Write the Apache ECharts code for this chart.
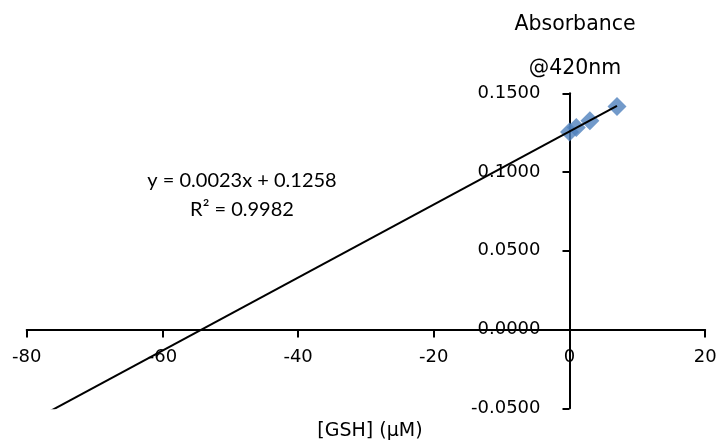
<!DOCTYPE html>
<html>
<head>
<meta charset="utf-8">
<script src="https://cdn.jsdelivr.net/npm/echarts@6/dist/echarts.min.js"></script>
<style>html,body{margin:0;padding:0;background:#fff}#c{width:721px;height:443px}</style>
</head>
<body>
<div id="c"></div>
<script>
// data
var gshConc = [0, 1, 3, 7];
var absorbance = [0.1255, 0.1283, 0.1325, 0.1416];
var slope = 0.00232;      // unrounded fit slope (label shows 0.0023)
var intercept = 0.1258;
var trendX = [-80, 7];
var xTicks = [-80, -60, -40, -20, 0, 20];
var yTicks = [-0.05, 0, 0.05, 0.10, 0.15];
var eqText = 'y = 0.0023x + 0.1258\nR² = 0.9982';

var pts = gshConc.map(function (x, i) { return [x, absorbance[i]]; });
var trend = trendX.map(function (x) { return [x, slope * x + intercept]; });

var gridLeft = 26.7, gridRight = 15.8, gridTop = 93.3, gridBottom = 34.7;
var W = 721, H = 443;
var xMin = xTicks[0], xMax = xTicks[xTicks.length - 1];
var yMin = yTicks[0], yMax = yTicks[yTicks.length - 1];
var plotW = W - gridLeft - gridRight, plotH = H - gridTop - gridBottom;
// offsets to place axes at the zero crossing of the other axis
var xAxisOffset = -plotH * (0 - yMin) / (yMax - yMin);
var yAxisOffset = -plotW * (0 - xMin) / (xMax - xMin);

var chart = echarts.init(document.getElementById('c'));
var tickFont = 'DejaVu Sans';
chart.setOption({
  animation: false,
  backgroundColor: '#fff',
  grid: { left: gridLeft, right: gridRight, top: gridTop, bottom: gridBottom, containLabel: false, outerBoundsMode: 'none' },
  xAxis: {
    type: 'value', min: xMin, max: xMax, interval: 20, position: 'bottom', offset: xAxisOffset,
    name: '[GSH] (μM)', nameLocation: 'middle', nameGap: 92,
    nameTextStyle: { fontFamily: tickFont, fontSize: 19, color: '#000', padding: [0, 0, 0, 8] },
    axisLine: { onZero: false, lineStyle: { color: '#000', width: 2 } },
    axisTick: { show: true, inside: false, length: 8, lineStyle: { color: '#000', width: 2 } },
    axisLabel: { margin: 19, fontFamily: tickFont, fontSize: 18, color: '#000' },
    splitLine: { show: false }
  },
  yAxis: {
    type: 'value', min: yMin, max: yMax, interval: 0.05, position: 'left', offset: yAxisOffset,
    name: 'Absorbance\n\n@420nm', nameLocation: 'end', nameGap: 14,
    nameTextStyle: { fontFamily: tickFont, fontSize: 20.5, color: '#000', lineHeight: 22, align: 'center', padding: [0, 0, 0, 11] },
    axisLine: { onZero: false, lineStyle: { color: '#000', width: 2 } },
    axisTick: { show: true, inside: false, length: 7, lineStyle: { color: '#000', width: 2 } },
    axisLabel: { margin: 29, fontFamily: tickFont, fontSize: 18, color: '#000',
      formatter: function (v) { return v.toFixed(4); } },
    splitLine: { show: false }
  },
  series: [
    {
      type: 'line', data: trend, symbol: 'none', clip: true,
      lineStyle: { color: '#000', width: 2 }, z: 3
    },
    {
      type: 'scatter', data: pts, symbol: 'diamond', symbolSize: 19,
      itemStyle: { color: '#4F81BD' }, z: 2
    }
  ],
  graphic: [{
    type: 'text', x: 242, y: 166,
    style: { text: eqText, fontFamily: 'Lato', fontSize: 20, lineHeight: 29, fill: '#000', align: 'center' }
  }]
});
</script>
</body>
</html>
